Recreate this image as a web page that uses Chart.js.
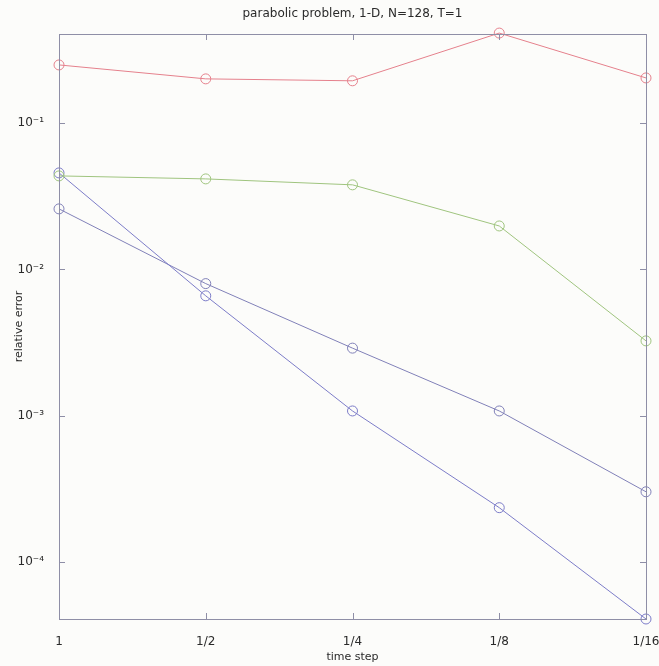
<!DOCTYPE html>
<html>
<head>
<meta charset="utf-8">
<title>parabolic problem</title>
<script src="https://cdn.jsdelivr.net/npm/chart.js@4.4.1/dist/chart.umd.min.js"></script>
<style>
  body { margin: 0; background: #fcfcfa; }
  #wrap { width: 659px; height: 666px; }
</style>
</head>
<body>
<div id="wrap"><canvas id="errChart" width="659" height="666"></canvas></div>
<script>
// データ
const chartTitle = 'parabolic problem, 1-D, N=128, T=1';
const timeSteps = ['1', '1/2', '1/4', '1/8', '1/16'];
const redErr = [0.249, 0.200, 0.194, 0.411, 0.203];
const greenErr = [0.0435, 0.0415, 0.0378, 0.0198, 0.00325];
const blueSteep = [0.0456, 0.0066, 0.00108, 0.000236, 0.000041];
const blueFlat = [0.0259, 0.0080, 0.0029, 0.00108, 0.000303];
const yTickValues = [1e-4, 1e-3, 1e-2, 1e-1];
const yTickLabels = ['10⁻⁴', '10⁻³', '10⁻²', '10⁻¹'];

const axisColor = '#8e8ea6';
const textColor = '#2a2a2a';
const baseFont = { family: 'DejaVu Sans', size: 11, weight: 'normal' };

function makeSeries(data, color) {
  return {
    data: data,
    borderColor: color,
    borderWidth: 1,
    pointStyle: 'circle',
    pointRadius: 5,
    pointBorderWidth: 1,
    pointBorderColor: color,
    pointBackgroundColor: 'rgba(0,0,0,0)',
    tension: 0,
    clip: false
  };
}

// 枠・内向きの目盛り・タイトル
const boxPlugin = {
  id: 'boxPlugin',
  afterDatasetsDraw(chart) {
    const { ctx, chartArea: a, scales } = chart;
    ctx.save();
    ctx.strokeStyle = axisColor;
    ctx.lineWidth = 1;
    ctx.strokeRect(a.left + 0.5, a.top + 0.5, a.right - a.left, a.bottom - a.top);
    ctx.beginPath();
    yTickValues.forEach(v => {
      const y = Math.round(scales.y.getPixelForValue(v)) + 0.5;
      ctx.moveTo(a.left, y); ctx.lineTo(a.left + 6, y);
      ctx.moveTo(a.right, y); ctx.lineTo(a.right - 6, y);
    });
    timeSteps.forEach((t, i) => {
      const x = Math.round(scales.x.getPixelForValue(i)) + 0.5;
      ctx.moveTo(x, a.bottom); ctx.lineTo(x, a.bottom - 6);
      ctx.moveTo(x, a.top); ctx.lineTo(x, a.top + 6);
    });
    ctx.stroke();

    ctx.fillStyle = textColor;
    ctx.font = '12px "DejaVu Sans"';
    ctx.textAlign = 'center';
    ctx.textBaseline = 'middle';
    ctx.fillText(chartTitle, (a.left + a.right) / 2, 14);
    ctx.restore();
  }
};

const ctx = document.getElementById('errChart').getContext('2d');
const errChart = new Chart(ctx, {
  type: 'line',
  data: {
    labels: timeSteps,
    datasets: [
      makeSeries(redErr, '#e5808c'),
      makeSeries(greenErr, '#9fc47e'),
      makeSeries(blueSteep, '#7c7cc8'),
      makeSeries(blueFlat, '#8080b8')
    ]
  },
  options: {
    responsive: false,
    animation: false,
    layout: { padding: { right: 13, left: 0, bottom: 0, top: 34 } },
    plugins: {
      legend: { display: false },
      tooltip: { enabled: false },
      title: { display: false }
    },
    scales: {
      x: {
        type: 'category',
        offset: false,
        grid: { display: false },
        border: { display: false },
        ticks: {
          color: textColor,
          font: { family: 'DejaVu Sans', size: 12, weight: 'normal' },
          padding: 8,
          maxRotation: 0,
          autoSkip: false
        },
        title: {
          display: true,
          text: 'time step',
          color: textColor,
          font: baseFont,
          padding: { top: 0, bottom: 2 }
        },
        afterFit: (scale) => {
          scale.height = 47;
          scale.paddingLeft = 0;
          scale.paddingRight = 0;
        }
      },
      y: {
        type: 'logarithmic',
        min: 4.1e-5,
        max: 0.405,
        grid: { display: false },
        border: { display: false },
        afterBuildTicks: (scale) => {
          scale.ticks = yTickValues.map(v => ({ value: v }));
        },
        ticks: {
          color: textColor,
          font: { family: 'DejaVu Sans', size: 12, weight: 'normal' },
          padding: 7,
          callback: (value) => {
            const i = yTickValues.indexOf(value);
            return i >= 0 ? yTickLabels[i] : '';
          }
        },
        title: {
          display: true,
          text: 'relative error',
          color: textColor,
          font: baseFont,
          padding: { top: 13, bottom: 0 }
        },
        afterFit: (scale) => {
          scale.width = 59;
          scale.paddingTop = 0;
          scale.paddingBottom = 0;
        }
      }
    }
  },
  plugins: [boxPlugin]
});
</script>
</body>
</html>
